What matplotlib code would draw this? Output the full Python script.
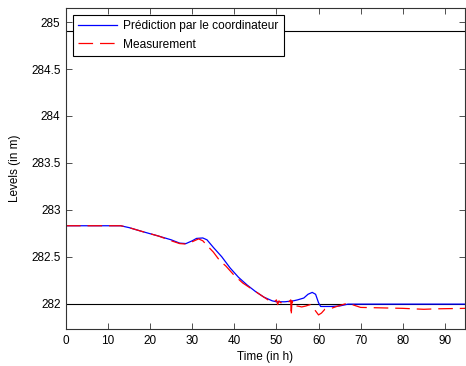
import matplotlib
matplotlib.use("Agg")
import matplotlib.pyplot as plt

plt.rcParams['font.family'] = ['Liberation Sans', 'DejaVu Sans']
plt.rcParams['lines.scale_dashes'] = False

# Data
pred_t = [0, 13, 15, 18, 22, 25, 27, 28.5, 30, 31, 32.5, 33.5, 35, 37, 39, 41, 43, 45, 47, 49, 50,
          52, 54, 55, 56.5, 57.5, 58.5, 59.3, 60, 60.5, 63, 65, 67, 70, 95]
pred_y = [282.83, 282.83, 282.81, 282.77, 282.72, 282.68, 282.645, 282.64, 282.67, 282.695, 282.70,
          282.68, 282.60, 282.50, 282.38, 282.28, 282.20, 282.13, 282.07, 282.03, 282.02,
          282.02, 282.03, 282.04, 282.06, 282.10, 282.12, 282.10, 282.01, 281.97, 281.97,
          281.975, 281.995, 281.995, 281.995]

meas_t = [0, 13, 15, 18, 22, 25, 27, 28.5, 30, 31.5, 32.5, 33.5, 35, 36.5, 38, 40, 42, 44, 46, 48,
          49.5, 50, 50.3, 50.6, 51, 53, 53.4, 53.5, 53.7, 54, 55, 56, 57, 58, 59, 60, 60.7, 61.5,
          63, 65, 66.5, 68, 70, 75, 80, 85, 88, 95]
meas_y = [282.83, 282.83, 282.81, 282.77, 282.72, 282.67, 282.64, 282.635, 282.66, 282.69, 282.67,
          282.62, 282.55, 282.46, 282.40, 282.30, 282.22, 282.16, 282.10, 282.04,
          282.02, 282.04, 281.99, 282.03, 282.01, 282.02, 282.04, 281.87, 282.03, 281.97,
          281.975, 281.965, 281.975, 281.99, 281.94, 281.88, 281.90, 281.94,
          281.95, 281.98, 282.0, 281.99, 281.96, 281.955, 281.95, 281.94, 281.945, 281.95]

upper_level = 284.9
lower_level = 282.0

x_ticks = [0, 10, 20, 30, 40, 50, 60, 70, 80, 90]
y_ticks = [282, 282.5, 283, 283.5, 284, 284.5, 285]
y_ticklabels = ['282', '282.5', '283', '283.5', '284', '284.5', '285']

fig = plt.figure(figsize=(4.66, 3.66), dpi=100)
ax = fig.add_axes([66/466, 1-329/366, 399/466, (329-8)/366])

ax.axhline(upper_level, color='black', lw=0.8)
ax.axhline(lower_level, color='black', lw=0.8)
ax.plot(pred_t, pred_y, color='blue', lw=0.9, label='Prédiction par le coordinateur')
ax.plot(meas_t, meas_y, color='red', lw=0.9, dashes=(10.5, 5), label='Measurement')

ax.set_xlim(0, 94.8)
ax.set_ylim(281.73, 285.15)
ax.set_xticks(x_ticks)
ax.set_yticks(y_ticks)
ax.set_yticklabels(y_ticklabels)
ax.tick_params(direction='in', top=True, right=True, labelsize=8.5, length=4, width=0.6,
               colors='#333333', pad=4)
ax.tick_params(labelcolor='black')
for s in ax.spines.values():
    s.set_linewidth(0.8)
    s.set_color('#333333')

ax.set_xlabel('Time (in h)', fontsize=8.5, labelpad=3)
ax.set_ylabel('Levels (in m)', fontsize=8.5, labelpad=7)

leg = ax.legend(loc='upper left', fontsize=8.6, frameon=True, fancybox=False,
                edgecolor='black', framealpha=1, borderpad=0.45, handlelength=3.3,
                handletextpad=0.5, labelspacing=0.55, borderaxespad=0.55)
leg.get_frame().set_linewidth(0.8)

fig.savefig('out.png', dpi=100)
